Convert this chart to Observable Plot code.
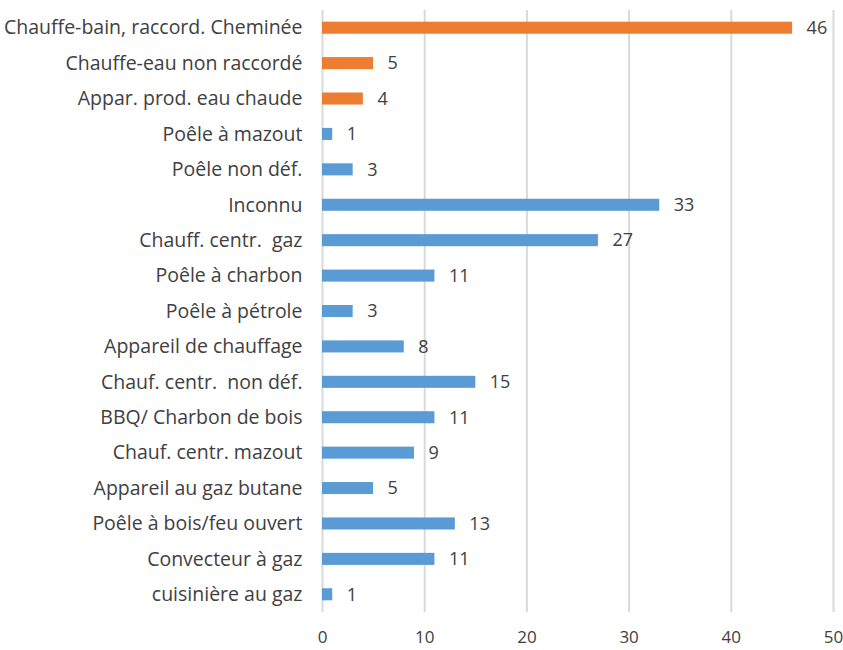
<!DOCTYPE html>
<html><head><meta charset="utf-8">
<script src="https://cdn.jsdelivr.net/npm/d3@7"></script>
<script src="https://cdn.jsdelivr.net/npm/@observablehq/plot@0.6"></script>
<style>body{margin:0;background:#fff;font-family:"Open Sans",sans-serif;}</style>
</head><body><div id="chart"></div>
<script>
const categories = ["Chauffe-bain, raccord. Cheminée","Chauffe-eau non raccordé","Appar. prod. eau chaude","Poêle à mazout","Poêle non déf.","Inconnu","Chauff. centr.  gaz","Poêle à charbon","Poêle à pétrole","Appareil de chauffage","Chauf. centr.  non déf.","BBQ/ Charbon de bois","Chauf. centr. mazout","Appareil au gaz butane","Poêle à bois/feu ouvert","Convecteur à gaz","cuisinière au gaz"];
const values = [46,5,4,1,3,33,27,11,3,8,15,11,9,5,13,11,1];
const groups = ["eau","eau","eau","chauf","chauf","chauf","chauf","chauf","chauf","chauf","chauf","chauf","chauf","chauf","chauf","chauf","chauf"];
const xTicks = [0,10,20,30,40,50];
const data = categories.map((c,i)=>({cat:c, v:values[i], g:groups[i]}));
const chart = Plot.plot({
  width: 843, height: 650,
  marginLeft: 322, marginRight: 10, marginTop: 10, marginBottom: 38,
  style: {fontFamily: "Open Sans, sans-serif", fontSize: "17px", color: "#404040"},
  x: {domain: [0,50], ticks: xTicks, label: null, axis: null},
  y: {domain: categories, paddingInner: 0.66, paddingOuter: 0.33, round: false, label: null, axis: null},
  color: {domain: ["eau","chauf"], range: ["#ED7D31","#5B9BD5"]},
  marks: [
    Plot.ruleX(xTicks, {stroke: "#d9d9d9", strokeWidth: 2}),
    Plot.barX(data, {y: "cat", x: "v", fill: "g"}),
    Plot.text(data, {y: "cat", x: "v", text: d => String(d.v), dx: 14, textAnchor: "start", fill: "#404040", fontSize: 18}),
    Plot.axisY({tickSize: 0, tickPadding: 20, fontSize: 19.5, label: null, fill: "#404040"}),
    Plot.axisX(xTicks, {tickSize: 0, tickPadding: 18, fontSize: 17, label: null, fill: "#404040"})
  ]
});
document.getElementById("chart").appendChild(chart);
</script></body></html>
